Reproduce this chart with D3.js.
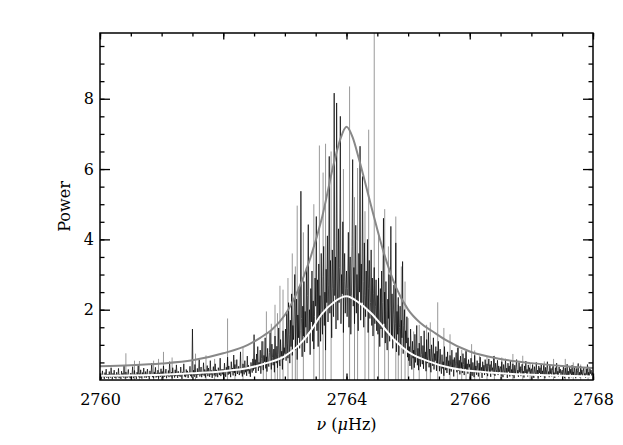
<!DOCTYPE html>
<html>
<head>
<meta charset="utf-8">
<script src="https://cdn.jsdelivr.net/npm/d3@7"></script>
<style>
  body { margin: 0; background: #fff; }
  text { font-family: "DejaVu Serif", serif; }
</style>
</head>
<body>
<div id="chart"></div>
<script>
// black spectrum, one value every 0.01 microHz from 2760.00 (one row = 0.5 microHz)
var freqStart = 2760;
var freqStep = 0.01;
var blackPower = [
  .05,.18,.02,.11,.26,.08,.14,.03,.21,.09,.31,.06,.12,.17,.04,.24,.10,.07,.35,.13,.02,.19,.09,.28,.06,
  .15,.04,.22,.11,.08,.33,.05,.16,.12,.03,.25,.09,.19,.07,.41,.11,.04,.23,.14,.06,.18,.30,.08,.13,.05,
  .20,.07,.14,.38,.05,.11,.27,.09,.16,.03,.22,.13,.45,.08,.18,.06,.29,.12,.04,.21,.15,.34,.07,.10,.24,
  .06,.17,.31,.09,.13,.02,.26,.11,.19,.48,.08,.14,.05,.23,.12,.36,.07,.18,.10,.28,.04,.15,.21,.09,.32,
  .11,.24,.06,.40,.14,.09,.19,.31,.05,.17,.12,.27,.08,.52,.15,.10,.22,.04,.35,.13,.18,.07,.29,.11,.43,
  .16,.06,.25,.12,.20,.09,.37,.14,.03,.23,.17,.46,.10,.19,.08,.30,.13,.26,.06,.21,.15,.39,.11,.18,.07,
  1.45,.12,.28,.09,.44,.16,.21,.06,.33,.14,.25,.58,.10,.19,.37,.08,.23,.15,.49,.12,.30,.07,.26,.18,.41,
  .11,.34,.20,.09,.55,.15,.27,.06,.22,.38,.13,.17,.46,.10,.29,.19,.08,.35,.24,.14,.62,.11,.21,.31,.16,
  .30,.12,.48,.21,.09,.36,.27,.65,.15,.40,.18,.29,.08,.52,.24,.34,.13,.71,.20,.44,.11,.31,.58,.17,.26,
  .39,.14,.23,.80,.19,.33,.10,.46,.28,.16,.55,.22,.37,.12,.68,.25,.42,.18,.30,.09,.50,.35,.21,.60,.27,
  1.29,.32,.58,.20,.74,.41,.95,.26,.50,.36,.85,.18,.62,1.10,.44,.28,.70,.52,1.20,.33,.66,.24,.90,.47,.38,
  .78,1.35,.55,.30,1.02,.64,.42,.88,.22,1.25,.60,.48,.96,.35,.72,1.48,.54,.40,1.15,.68,.82,.30,1.40,.58,.92,
  .75,1.45,.55,1.90,1.05,.62,2.20,1.30,.48,1.70,.95,2.45,.70,1.55,1.15,2.05,3.00,.85,1.60,2.30,.58,1.85,1.20,2.65,.90,
  1.40,5.37,1.75,.66,2.10,1.25,2.80,.80,1.95,1.50,3.20,1.05,2.40,4.42,1.35,2.00,.72,2.60,1.65,3.10,1.10,2.25,.88,1.80,2.90,
  2.10,4.65,1.40,2.85,.95,3.30,1.75,2.40,1.10,3.60,2.00,1.30,2.95,3.80,1.55,2.50,.85,3.15,2.20,4.10,1.65,2.70,6.36,1.90,3.40,
  2.30,1.20,3.70,2.60,1.80,8.16,2.40,3.50,1.45,7.88,2.90,1.70,4.30,2.20,3.20,7.50,1.60,3.00,2.45,4.50,1.35,2.80,3.60,1.90,2.60,
  3.10,1.80,2.60,4.20,1.50,2.90,3.50,1.30,2.40,3.80,6.27,2.10,3.20,1.60,2.70,4.40,1.90,3.00,2.30,1.40,3.60,2.50,6.65,1.70,3.30,
  2.20,5.79,2.80,1.50,3.90,2.40,1.80,3.10,2.00,4.00,1.35,2.60,3.40,1.75,2.20,3.70,1.55,2.90,1.25,2.45,3.20,1.60,2.10,2.85,1.40,
  2.40,1.30,2.90,1.70,.95,2.60,1.45,3.10,1.20,2.20,4.60,1.60,2.50,1.05,2.80,1.35,.85,2.30,1.75,3.00,1.10,2.05,4.37,1.25,2.45,
  .90,1.85,2.70,1.15,1.60,3.90,.80,1.95,1.30,2.35,.70,1.50,2.10,.95,1.70,1.20,3.37,.75,1.55,2.00,.85,1.40,1.05,1.80,.65,
  1.20,.55,.95,.40,1.45,.70,.30,1.10,.62,.85,.35,1.30,.50,.78,1.55,.42,.90,.28,1.05,.60,.38,1.25,.72,.45,.98,
  .32,1.40,.58,.80,.25,1.15,.48,.68,1.35,.36,.88,.52,.22,1.00,.65,.40,1.20,.30,.75,.55,.95,.26,.82,.44,1.10,
  .60,.25,.88,.40,.18,.72,.33,.52,.12,.95,.45,.28,.66,.20,.80,.38,.55,.15,.70,.42,.24,.85,.35,.58,.10,
  .64,.30,.48,.78,.22,.40,.92,.26,.56,.16,.68,.34,.50,.20,.75,.44,.14,.62,.32,.82,.28,.46,.18,.58,.36,
  .45,.18,.62,.28,.12,.50,.34,.08,.70,.22,.40,.15,.55,.30,.10,.48,.26,.65,.20,.36,.06,.52,.24,.42,.14,
  .58,.32,.18,.46,.11,.38,.60,.21,.44,.09,.54,.27,.35,.16,.68,.25,.12,.48,.30,.20,.56,.14,.40,.23,.33,
  .38,.12,.52,.22,.08,.44,.28,.15,.60,.18,.34,.06,.48,.24,.40,.10,.56,.20,.30,.13,.46,.26,.05,.42,.16,
  .36,.58,.14,.28,.09,.50,.22,.38,.11,.32,.45,.17,.25,.07,.40,.20,.54,.15,.30,.10,.43,.24,.35,.12,.28,
  .32,.10,.44,.18,.06,.38,.22,.13,.50,.15,.28,.04,.40,.20,.35,.09,.46,.16,.26,.11,.42,.19,.05,.36,.14,
  .30,.52,.12,.24,.08,.43,.18,.33,.10,.27,.39,.14,.21,.06,.35,.17,.48,.12,.25,.09,.37,.20,.31,.11,.23,
  .28,.09,.40,.16,.05,.34,.20,.12,.45,.14,.25,.04,.37,.18,.31,.08,.42,.15,.23,.10,.38,.17,.05,.33,.13,
  .27,.47,.11,.22,.07,.39,.16,.29,.09,.24,.35,.12,.19,.06,.32,.15,.44,.10,.22,.08,.34,.18,.28,.10,.21,
  .15
];

// gray spikes
var spikeFreq = [2760.42, 2760.56, 2760.64, 2760.87, 2760.95, 2761.03, 2761.17, 2761.55, 2761.72, 2761.86,
                 2762.07, 2762.19, 2762.32, 2762.65, 2762.70, 2762.78, 2762.84, 2762.88, 2762.92, 2762.97,
                 2763.05, 2763.12, 2763.17, 2763.20, 2763.30, 2763.47, 2763.56, 2763.62, 2763.66, 2763.75,
                 2763.95, 2764.05, 2764.13, 2764.18, 2764.30, 2764.36, 2764.45, 2764.52, 2764.62, 2764.68,
                 2764.80, 2764.84, 2764.89, 2764.95, 2765.00, 2765.09, 2765.18, 2765.30, 2765.36, 2765.48,
                 2765.58, 2765.68, 2765.80, 2765.87, 2765.94, 2766.03, 2766.08, 2766.16, 2766.28, 2766.40,
                 2766.52, 2766.70, 2766.86, 2766.98, 2767.21, 2767.36, 2767.55, 2767.68, 2767.80, 2767.92];
var spikePower = [0.76, 0.55, 0.54, 0.55, 0.60, 0.80, 0.64, 0.75, 0.70, 0.60,
                  1.75, 0.57, 0.91, 1.10, 1.95, 1.60, 2.14, 1.90, 2.68, 2.57,
                  2.90, 3.60, 3.23, 4.96, 4.20, 5.00, 6.67, 5.90, 6.72, 6.50,
                  6.00, 8.35, 5.20, 6.03, 4.80, 7.12, 11.0, 4.10, 4.86, 3.80,
                  4.65, 2.14, 3.23, 2.80, 1.76, 1.38, 1.57, 1.57, 1.64, 2.21,
                  1.48, 1.30, 0.91, 0.86, 0.81, 1.02, 0.84, 0.69, 0.67, 0.69,
                  0.64, 0.74, 0.69, 0.46, 0.53, 0.60, 0.60, 0.50, 0.44, 0.38];

// fitted profiles (gray = outer, white = inner)
var outerFreq = [2760.0, 2760.5, 2761.0, 2761.5, 2762.0, 2762.4, 2762.6, 2762.8, 2763.0, 2763.2, 2763.4, 2763.6,
                 2763.8, 2763.9, 2764.0, 2764.1, 2764.2, 2764.4, 2764.6, 2764.8, 2765.0, 2765.2, 2765.4, 2765.6,
                 2766.0, 2766.5, 2767.0, 2767.5, 2768.0];
var outerPower = [0.39, 0.42, 0.47, 0.56, 0.76, 1.00, 1.20, 1.45, 1.85, 2.50, 3.40, 4.60,
                  6.20, 6.85, 7.20, 6.90, 6.30, 4.95, 3.65, 2.65, 2.00, 1.62, 1.38, 1.15,
                  0.81, 0.60, 0.48, 0.40, 0.34];
var innerFreq = [2760.0, 2761.0, 2761.5, 2762.0, 2762.4, 2762.7, 2763.0, 2763.2, 2763.4, 2763.6, 2763.8, 2764.0,
                 2764.2, 2764.4, 2764.6, 2764.8, 2765.0, 2765.3, 2765.7, 2766.0, 2766.5, 2767.0, 2767.5, 2768.0];
var innerPower = [0.12, 0.15, 0.19, 0.25, 0.34, 0.48, 0.68, 0.95, 1.35, 1.88, 2.22, 2.38,
                  2.20, 1.90, 1.50, 1.10, 0.80, 0.55, 0.34, 0.26, 0.19, 0.15, 0.12, 0.10];

var xMajor = [2760, 2762, 2764, 2766, 2768];
var yMajor = [2, 4, 6, 8];

var svgWidth = 623;
var svgHeight = 445;
var margin = { top: 33, right: 30, bottom: 65, left: 100 };
var width = svgWidth - margin.left - margin.right;
var height = svgHeight - margin.top - margin.bottom;

var svg = d3.select("#chart")
  .append("svg")
  .attr("width", svgWidth)
  .attr("height", svgHeight);

var chartGroup = svg.append("g")
  .attr("transform", `translate(${margin.left}, ${margin.top})`);

var xScale = d3.scaleLinear().domain([2760, 2768]).range([0, width]);
var yScale = d3.scaleLinear().domain([0, 9.87]).range([height, 0]);

chartGroup.append("clipPath")
  .attr("id", "plotClip")
  .append("rect")
  .attr("width", width)
  .attr("height", height);

var plot = chartGroup.append("g").attr("clip-path", "url(#plotClip)");

// gray spikes behind the black spectrum
plot.selectAll(".spike")
  .data(spikeFreq)
  .enter()
  .append("line")
  .attr("class", "spike")
  .attr("x1", d => xScale(d))
  .attr("x2", d => xScale(d))
  .attr("y1", yScale(0))
  .attr("y2", (d, i) => yScale(spikePower[i]))
  .attr("stroke", "#999")
  .attr("stroke-width", 1);

var blackData = blackPower.map((p, i) => [freqStart + i * freqStep, p]);

var specLine = d3.line()
  .x(d => xScale(d[0]))
  .y(d => yScale(d[1]));

plot.append("path")
  .datum(blackData)
  .attr("d", specLine)
  .attr("fill", "none")
  .attr("stroke", "#000")
  .attr("stroke-width", 0.7);

var fitLine = d3.line()
  .x(d => xScale(d[0]))
  .y(d => yScale(d[1]))
  .curve(d3.curveMonotoneX);

plot.append("path")
  .datum(outerFreq.map((f, i) => [f, outerPower[i]]))
  .attr("d", fitLine)
  .attr("fill", "none")
  .attr("stroke", "#888")
  .attr("stroke-width", 2);

plot.append("path")
  .datum(innerFreq.map((f, i) => [f, innerPower[i]]))
  .attr("d", fitLine)
  .attr("fill", "none")
  .attr("stroke", "#fff")
  .attr("stroke-width", 2);

// axes, ticks pointing inward on all four sides
var xMinor = d3.range(2760, 2768.01, 0.5);
var yMinor = d3.range(0.5, 9.6, 0.5);

function styleAxis(g) {
  g.select(".domain").remove();
  g.selectAll("line").attr("stroke", "#000").attr("stroke-width", 1.3);
  g.selectAll("text").attr("fill", "#000").style("font-size", "16px");
}

chartGroup.append("g")
  .attr("transform", `translate(0, ${height})`)
  .call(d3.axisBottom(xScale).tickValues(xMinor).tickSize(-3.5).tickFormat(""))
  .call(styleAxis);
chartGroup.append("g")
  .attr("transform", `translate(0, ${height})`)
  .call(d3.axisBottom(xScale).tickValues(xMajor).tickSize(-6.5).tickPadding(14).tickFormat(d3.format("d")))
  .call(styleAxis);
chartGroup.append("g")
  .call(d3.axisTop(xScale).tickValues(xMinor).tickSize(-3.5).tickFormat(""))
  .call(styleAxis);
chartGroup.append("g")
  .call(d3.axisTop(xScale).tickValues(xMajor).tickSize(-6.5).tickFormat(""))
  .call(styleAxis);

chartGroup.append("g")
  .call(d3.axisLeft(yScale).tickValues(yMinor).tickSize(-4.5).tickFormat(""))
  .call(styleAxis);
chartGroup.append("g")
  .call(d3.axisLeft(yScale).tickValues(yMajor).tickSize(-10).tickPadding(6).tickFormat(d3.format("d")))
  .call(styleAxis);
chartGroup.append("g")
  .attr("transform", `translate(${width}, 0)`)
  .call(d3.axisRight(yScale).tickValues(yMinor).tickSize(-4.5).tickFormat(""))
  .call(styleAxis);
chartGroup.append("g")
  .attr("transform", `translate(${width}, 0)`)
  .call(d3.axisRight(yScale).tickValues(yMajor).tickSize(-10).tickFormat(""))
  .call(styleAxis);

chartGroup.append("rect")
  .attr("width", width)
  .attr("height", height)
  .attr("fill", "none")
  .attr("stroke", "#000")
  .attr("stroke-width", 1.5);

// axis titles
var xTitle = chartGroup.append("text")
  .attr("x", width / 2)
  .attr("y", height + 50)
  .attr("text-anchor", "middle")
  .style("font-size", "16px");
xTitle.append("tspan").style("font-style", "italic").text("ν");
xTitle.append("tspan").text(" (");
xTitle.append("tspan").style("font-style", "italic").text("μ");
xTitle.append("tspan").text("Hz)");

chartGroup.append("text")
  .attr("transform", `translate(-30, ${height / 2}) rotate(-90)`)
  .attr("text-anchor", "middle")
  .style("font-size", "16px")
  .text("Power");
</script>
</body>
</html>
